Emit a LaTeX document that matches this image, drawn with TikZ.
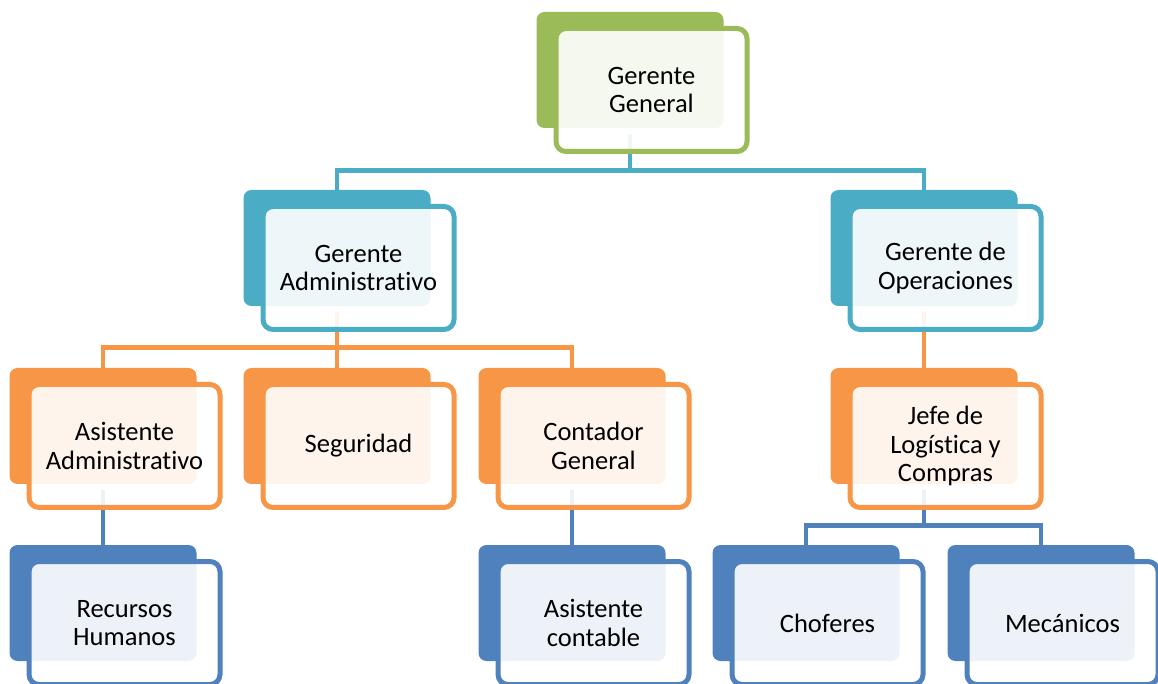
\documentclass[tikz,border=0pt]{standalone}
\usepackage{fontspec}
\setmainfont{Carlito}[Ligatures={NoCommon}]
\usetikzlibrary{calc}
\definecolor{leafG}{HTML}{9BBB59}
\definecolor{tealB}{HTML}{4BACC6}
\definecolor{orangeB}{HTML}{F79646}
\definecolor{blueB}{HTML}{4F81BD}
\begin{document}
\begin{tikzpicture}[
  x=0.75pt, y=-0.75pt,
  plate/.style={rectangle, rounded corners=6pt, fill=#1, inner sep=0pt, minimum width=140.25pt, minimum height=87pt},
  card/.style={rectangle, rounded corners=7.5pt, draw=#1, line width=3.75pt, fill=white, fill opacity=0.9, text opacity=1, minimum width=143.25pt, minimum height=92.25pt, align=center, font=\fontsize{19.9}{21.3}\selectfont},
  wire/.style={draw=#1, line width=3.6pt, shorten <=4.5pt}
]
  \useasboundingbox (0,0) rectangle (1158,684);

  % back plates
  \node[plate=leafG] (gg) at (630,70) {};
  \node[plate=tealB] (ga) at (337,248) {};
  \node[plate=tealB] (go) at (924,248) {};
  \node[plate=orangeB] (aa) at (103,426) {};
  \node[plate=orangeB] (seg) at (337,426) {};
  \node[plate=orangeB] (cg) at (572,426) {};
  \node[plate=orangeB] (jl) at (924,426) {};
  \node[plate=blueB] (rh) at (103,603) {};
  \node[plate=blueB] (ac) at (572,603) {};
  \node[plate=blueB] (ch) at (806,603) {};
  \node[plate=blueB] (me) at (1041,603) {};

  % connectors
  \draw[wire=tealB] (gg.south) -- ++(0,42) -| (ga.north);
  \draw[wire=tealB] (gg.south) -- ++(0,42) -| (go.north);
  \draw[wire=orangeB] (ga.south) -- ++(0,41) -| (aa.north);
  \draw[wire=orangeB] (ga.south) -- (seg.north);
  \draw[wire=orangeB] (ga.south) -- ++(0,41) -| (cg.north);
  \draw[wire=orangeB] (go.south) -- (jl.north);
  \draw[wire=blueB] (aa.south) -- (rh.north);
  \draw[wire=blueB] (cg.south) -- (ac.north);
  \draw[wire=blueB] (jl.south) -- ++(0,41) -| (ch.north);
  \draw[wire=blueB] (jl.south) -- ++(0,41) -| (me.north);

  % front cards
  \node[card=leafG] (gg-c) at ($(gg)+(21.5,20)$) {Gerente\\General};
  \node[card=tealB] (ga-c) at ($(ga)+(21.5,20)$) {Gerente\\Administrativo};
  \node[card=tealB] (go-c) at ($(go)+(21.5,20)$) {Gerente de\\Operaciones};
  \node[card=orangeB] (aa-c) at ($(aa)+(21.5,20)$) {Asistente\\Administrativo};
  \node[card=orangeB] (seg-c) at ($(seg)+(21.5,20)$) {Seguridad};
  \node[card=orangeB] (cg-c) at ($(cg)+(21.5,20)$) {Contador\\General};
  \node[card=orangeB] (jl-c) at ($(jl)+(21.5,20)$) {Jefe de\\Logística y\\Compras};
  \node[card=blueB] (rh-c) at ($(rh)+(21.5,20)$) {Recursos\\Humanos};
  \node[card=blueB] (ac-c) at ($(ac)+(21.5,20)$) {Asistente\\contable};
  \node[card=blueB] (ch-c) at ($(ch)+(21.5,20)$) {Choferes};
  \node[card=blueB] (me-c) at ($(me)+(21.5,20)$) {Mecánicos};
\end{tikzpicture}
\end{document}
